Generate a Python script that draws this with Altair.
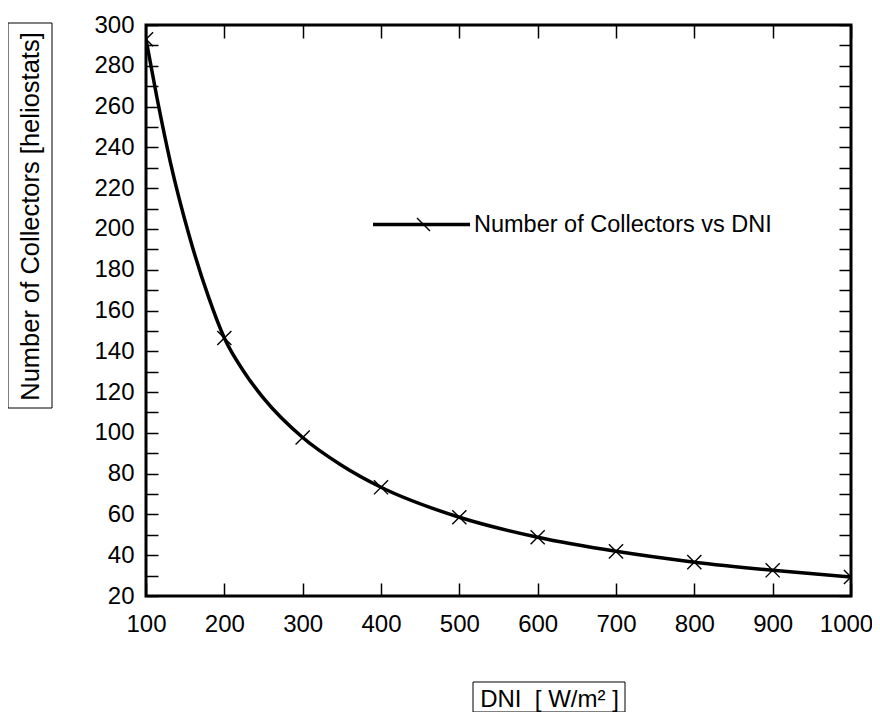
import altair as alt
import pandas as pd

# ---- values ----
marker_dni = [100, 200, 300, 400, 500, 600, 700, 800, 900, 1000]
marker_n = [293, 146.5, 97.7, 73.3, 58.6, 48.8, 41.9, 36.6, 32.6, 29.3]

curve_dni = [100, 114, 131, 155, 180, 200, 225, 250, 300, 350, 400, 500, 600, 700, 800, 900, 1000]
curve_n = [293, 264.3, 232.9, 196.9, 166.4, 146.5, 130, 117, 97.7, 84, 73.3, 58.6, 48.8, 41.9, 36.6, 32.6, 29.3]

series_name = "Number of Collectors vs DNI"
x_ticks = [100, 200, 300, 400, 500, 600, 700, 800, 900, 1000]
y_ticks = list(range(20, 301, 10))

x_title = "DNI\u00a0\u00a0[ W/m\u00b2 ]"
y_title = "Number of Collectors [heliostats]"

FONT = "Liberation Sans"

curve_df = pd.DataFrame({"dni": curve_dni, "n": curve_n, "series": [series_name] * len(curve_dni)})
marker_df = pd.DataFrame({"dni": marker_dni, "n": marker_n, "mk": ["m"] * len(marker_dni)})

xscale = alt.Scale(domain=[100, 1000], nice=False, zero=False)
yscale = alt.Scale(domain=[20, 300], nice=False, zero=False)

common_axis = dict(
    domain=False, grid=False, tickColor="black", tickWidth=1.5,
    labelColor="black", labelFont=FONT, labelFontSize=24,
    labelOverlap=False, labelFlush=False, labelBound=False,
)

line = alt.Chart(curve_df).mark_line(
    interpolate="monotone", color="black", strokeWidth=3.5, clip=True
).encode(
    x=alt.X("dni:Q", scale=xscale, axis=alt.Axis(
        orient="bottom", values=x_ticks, format="d", tickSize=13, offset=-13,
        labelPadding=16,
        labelOffset={"condition": {"test": "datum.value == 1000", "value": -5}, "value": 0},
        title=x_title, titleFont=FONT, titleFontSize=24,
        titleFontWeight="normal", titleColor="black", titleX=403, titleY=116,
        titleBaseline="middle", titleAlign="center", **common_axis)),
    y=alt.Y("n:Q", scale=yscale, axis=alt.Axis(
        orient="left", values=y_ticks, tickSize=12, offset=-12, labelPadding=12,
        labelExpr="datum.value % 20 == 0 ? datum.label : ''",
        title=y_title, titleFont=FONT, titleFontSize=25.5, titleFontWeight="normal",
        titleColor="black", titleX=-128, titleY=191, titleAngle=270,
        titleBaseline="middle", titleAlign="center", titleLimit=0, **common_axis)),
    color=alt.Color("series:N", scale=alt.Scale(range=["black"]), legend=alt.Legend(
        orient="none", legendX=225, legendY=149, padding=0, title=None,
        symbolType="M-1,0L1,0", symbolSize=9409, symbolStrokeWidth=3.5,
        symbolStrokeColor="black", labelFont=FONT, labelFontSize=23.5,
        labelColor="black", labelOffset=2, labelLimit=0)),
)

points = alt.Chart(marker_df).mark_point(
    shape="M-1,-1L1,1M-1,1L1,-1", size=200, filled=False, stroke="black",
    strokeWidth=1.4, clip=True
).encode(
    x=alt.X("dni:Q", scale=xscale, axis=alt.Axis(
        orient="top", values=x_ticks, tickSize=13, offset=-13, labels=False,
        title=None, **common_axis)),
    y=alt.Y("n:Q", scale=yscale, axis=alt.Axis(
        orient="right", values=y_ticks, tickSize=12, offset=-12, labels=False,
        title=None, **common_axis)),
    opacity=alt.Opacity("mk:N", scale=alt.Scale(range=[1, 1]), legend=alt.Legend(
        orient="none", legendX=270, legendY=192, padding=0, title=None,
        symbolType="M-1,-1L1,1", symbolSize=169, symbolStrokeWidth=1.4,
        symbolStrokeColor="black", symbolFillColor="transparent",
        labelExpr="''", labelFontSize=1)),
)

box_df = pd.DataFrame({"k": [0]})
ybox = alt.Chart(box_df).mark_rect(fill="transparent", stroke="black", strokeWidth=1).encode(
    x=alt.value(-138), x2=alt.value(-94), y=alt.value(-2), y2=alt.value(383))
xbox = alt.Chart(box_df).mark_rect(fill="transparent", stroke="black", strokeWidth=1).encode(
    x=alt.value(327), x2=alt.value(479), y=alt.value(657), y2=alt.value(687))

chart = alt.layer(line, points, ybox, xbox).resolve_axis(
    x="independent", y="independent"
).properties(
    width=705, height=571,
    autosize=alt.AutoSizeParams(type="none"),
    padding={"left": 138, "top": 17, "right": 21, "bottom": 116},
).configure_view(
    stroke="black", strokeWidth=3
)

chart.save("out.html", embed_options={"renderer": "svg", "actions": False})
